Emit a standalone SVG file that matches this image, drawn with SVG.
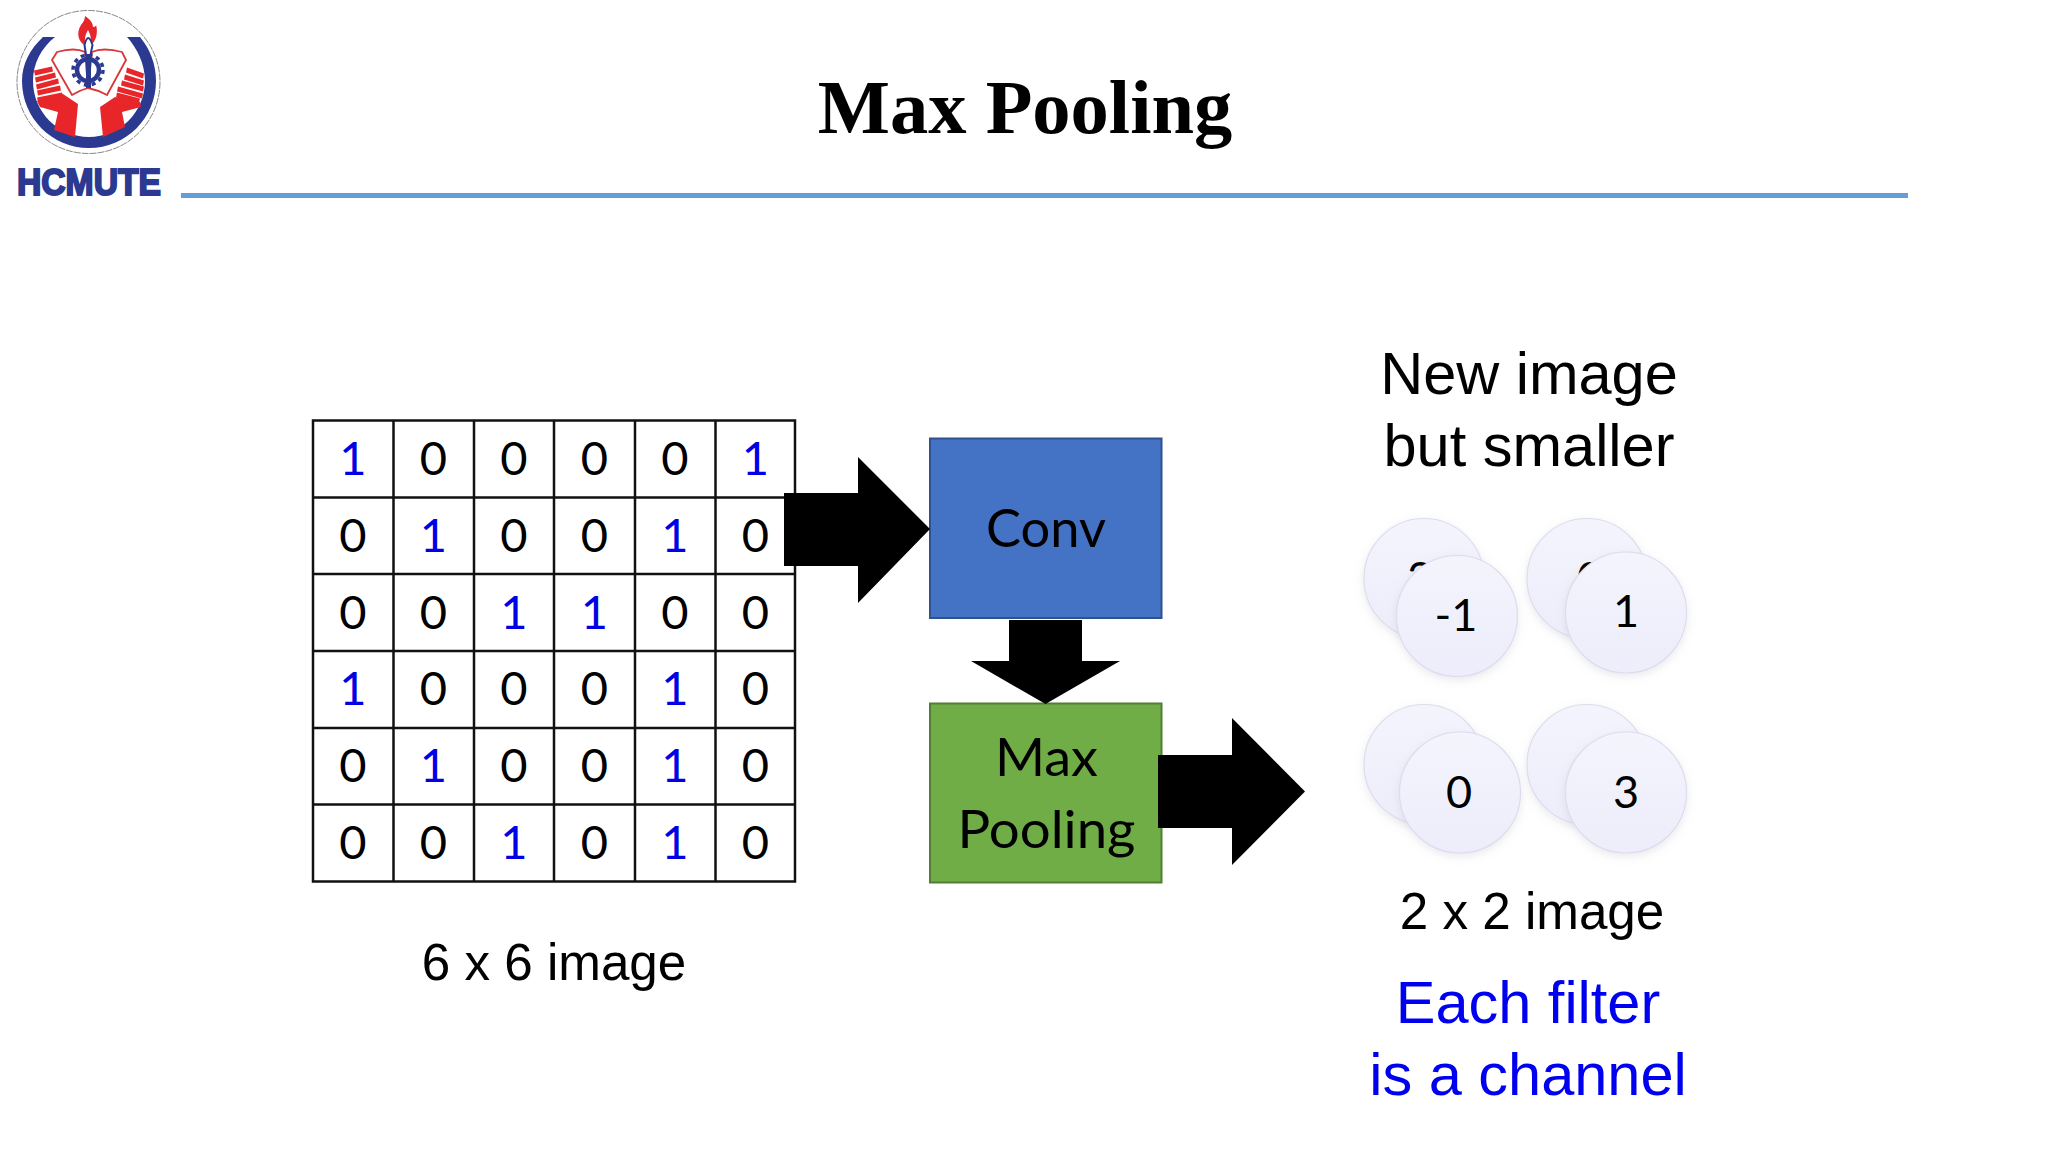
<svg xmlns="http://www.w3.org/2000/svg" width="2048" height="1152" viewBox="0 0 2048 1152">
<style>
.a{font-family:"Liberation Sans",Arial,sans-serif;fill:#000;text-anchor:middle}
.blue{fill:#0000f0}
.c{font-family:Lato,"Open Sans",sans-serif;fill:#000;text-anchor:middle}
.d{font-size:47px}.b{fill:#0000e6}.n2{font-size:45px}.box{font-size:53px}
.g{stroke:#111;stroke-width:2.5;fill:none}
.disc{fill:url(#df);stroke:#dcdcee;stroke-width:1.2;filter:url(#sh)}
.r{fill:#e8262a}.n{fill:#2b3990}
</style>
<defs>
<filter id="sh" x="-20%" y="-20%" width="140%" height="140%"><feDropShadow dx="0" dy="3" stdDeviation="4" flood-color="#a8a8b8" flood-opacity=".25"/></filter>
<linearGradient id="df" x1="0" y1="0" x2="0" y2="1"><stop offset="0" stop-color="#f4f4fd"/><stop offset="1" stop-color="#ededfb"/></linearGradient>
</defs>
<rect width="2048" height="1152" fill="#fff"/>
<g id="logo">
<circle cx="88.500" cy="82" r="71.500" fill="#fff" stroke="#888" stroke-width="1" stroke-dasharray="7 1"/>
<path class="n" d="M43 37H55C41 48 33 64 33 81C33 112 58 137 89 137C120 137 145 112 145 81C145 64 137 48 127 37H140C150 49 156 64 156 81C156 118 126 148 89 148C52 148 22 118 22 81C22 64 30 49 43 37Z"/>
<path d="M52 60L57 52Q75 47 85 52L88 88Q80 90 72 95ZM126 60L122 52Q103 47 92 52L88 88Q98 90 107 95Z" fill="#fff" stroke="#d9383a" stroke-width="1.800" stroke-linejoin="round"/>
<path class="r" d="M86 46C78 42 76 33 81 25C84 22 85 18 85 16C90 19 93 23 93 27C95 27 96 26 96 25C98 31 97 41 90 46C92 38 90 34 88 30C85 35 84 40 86 46Z"/>
<circle cx="88" cy="70" r="11" fill="none" stroke="#2b3990" stroke-width="4.500"/>
<circle cx="88" cy="70" r="15" fill="none" stroke="#2b3990" stroke-width="3.500" stroke-dasharray="4 3.850"/>
<path class="n" d="M86 53H91V88H86Z"/>
<path d="M84.500 45Q88 31 92.500 45L90.500 55H86Z" fill="#fff" stroke="#2b3990" stroke-width="2"/>
<g class="r"><path d="M34 70.500L52 66.500L53 71.500L35 75.500Z"/><path d="M35 77.500L55 72.500L56 77.500L36 82.500Z"/><path d="M36 84.500L58 78.500L59 83.500L37 89.500Z"/><path d="M37 90.500L60 85.500L61 90.500L38 95.500Z"/><path d="M37 97.500L62 92.500L63 96.500L38 101.500Z"/>
<path d="M144 73.500L127 67.500L126 72.500L143 78.500Z"/><path d="M144 80.500L125 74.500L124 79.500L143 85.500Z"/><path d="M144 86.500L122 80.500L121 85.500L143 91.500Z"/><path d="M143 93.500L118 86.500L117 91.500L142 98.500Z"/><path d="M140 98.500L117 92.500L116 97.500L139 103.500Z"/>
<path d="M37 101L63 94L78 104L75 137L54 130L58 112L40 107Z"/><path d="M100 107L115 97L140 102L141 107L122 112L125 127L103 137Z"/></g>
<text x="89" y="194.500" font-family="'Liberation Sans',Arial,sans-serif" font-weight="700" font-size="37" fill="#2b3990" stroke="#2b3990" stroke-width="2" text-anchor="middle" textLength="144" lengthAdjust="spacingAndGlyphs">HCMUTE</text>
</g>
<text id="title" x="1025" y="133" font-family="'Liberation Serif','Times New Roman',serif" font-weight="700" font-size="76.500" text-anchor="middle">Max Pooling</text>
<rect id="rule" x="181" y="193" width="1727" height="5" fill="#659dd6"/>
<g id="grid">
<path class="g" d="M313 420.500H795V881.500H313ZM393.500 420.500V881.500M474 420.500V881.500M554 420.500V881.500M635 420.500V881.500M715.500 420.500V881.500M313 497.500H795M313 574H795M313 651H795M313 728H795M313 804.500H795"/>
<text class="c d b" x="353" y="475">1</text><text class="c d" x="433.500" y="475">0</text><text class="c d" x="514" y="475">0</text><text class="c d" x="594.500" y="475">0</text><text class="c d" x="675" y="475">0</text><text class="c d b" x="755.500" y="475">1</text>
<text class="c d" x="353" y="552">0</text><text class="c d b" x="433.500" y="552">1</text><text class="c d" x="514" y="552">0</text><text class="c d" x="594.500" y="552">0</text><text class="c d b" x="675" y="552">1</text><text class="c d" x="755.500" y="552">0</text>
<text class="c d" x="353" y="629">0</text><text class="c d" x="433.500" y="629">0</text><text class="c d b" x="514" y="629">1</text><text class="c d b" x="594.500" y="629">1</text><text class="c d" x="675" y="629">0</text><text class="c d" x="755.500" y="629">0</text>
<text class="c d b" x="353" y="705">1</text><text class="c d" x="433.500" y="705">0</text><text class="c d" x="514" y="705">0</text><text class="c d" x="594.500" y="705">0</text><text class="c d b" x="675" y="705">1</text><text class="c d" x="755.500" y="705">0</text>
<text class="c d" x="353" y="782">0</text><text class="c d b" x="433.500" y="782">1</text><text class="c d" x="514" y="782">0</text><text class="c d" x="594.500" y="782">0</text><text class="c d b" x="675" y="782">1</text><text class="c d" x="755.500" y="782">0</text>
<text class="c d" x="353" y="859">0</text><text class="c d" x="433.500" y="859">0</text><text class="c d b" x="514" y="859">1</text><text class="c d" x="594.500" y="859">0</text><text class="c d b" x="675" y="859">1</text><text class="c d" x="755.500" y="859">0</text>
</g>
<text id="label-6x6" class="a" x="554" y="980" font-size="51.200">6 x 6 image</text>
<g id="node-conv"><rect x="930" y="438.500" width="231.500" height="179.500" fill="#4472c4" stroke="#2f528f" stroke-width="2"/><text class="c box" x="1046" y="546.500" textLength="120" lengthAdjust="spacingAndGlyphs">Conv</text></g>
<g id="node-maxpool"><rect x="930" y="703.500" width="231.500" height="179" fill="#70ad47" stroke="#507e32" stroke-width="2"/><text class="c box" x="1046.500" y="776" textLength="103" lengthAdjust="spacingAndGlyphs">Max</text><text class="c box" x="1046.500" y="848" textLength="178" lengthAdjust="spacingAndGlyphs">Pooling</text></g>
<g id="connectors" fill="#000">
<path d="M784 493H858V457L930 529L858 603V566H784Z"/>
<path d="M1009 620H1082V661H1120L1045.500 704L971 661H1009Z"/>
<path d="M1158 755H1232V718L1305 791.500L1232 865V828H1158Z"/>
</g>
<text id="label-new" class="a" font-size="59.500" x="1529" y="394">New image</text>
<text class="a" font-size="59.500" x="1529" y="466">but smaller</text>
<g id="stack-1"><circle class="disc" cx="1424" cy="578.500" r="60"/><text class="c n2" x="1420" y="594">3</text><circle class="disc" cx="1457" cy="616" r="60.500"/><text class="c n2" x="1456" y="631">-1</text></g>
<g id="stack-2"><circle class="disc" cx="1587" cy="578.500" r="60"/><text class="c n2" x="1590" y="594">0</text><circle class="disc" cx="1626" cy="612.500" r="60.500"/><text class="c n2" x="1626" y="627">1</text></g>
<g id="stack-3"><circle class="disc" cx="1424" cy="764.500" r="60"/><circle class="disc" cx="1460" cy="792.500" r="60.500"/><text class="c n2" x="1459" y="808">0</text></g>
<g id="stack-4"><circle class="disc" cx="1587" cy="764.500" r="60"/><circle class="disc" cx="1626" cy="792.500" r="60.500"/><text class="c n2" x="1626" y="808">3</text></g>
<text id="label-2x2" class="a" font-size="51.200" x="1532" y="928.500">2 x 2 image</text>
<text id="note" class="a blue" font-size="59.500" x="1528" y="1022.500">Each filter</text>
<text class="a blue" font-size="59.500" x="1528" y="1095">is a channel</text>
</svg>
